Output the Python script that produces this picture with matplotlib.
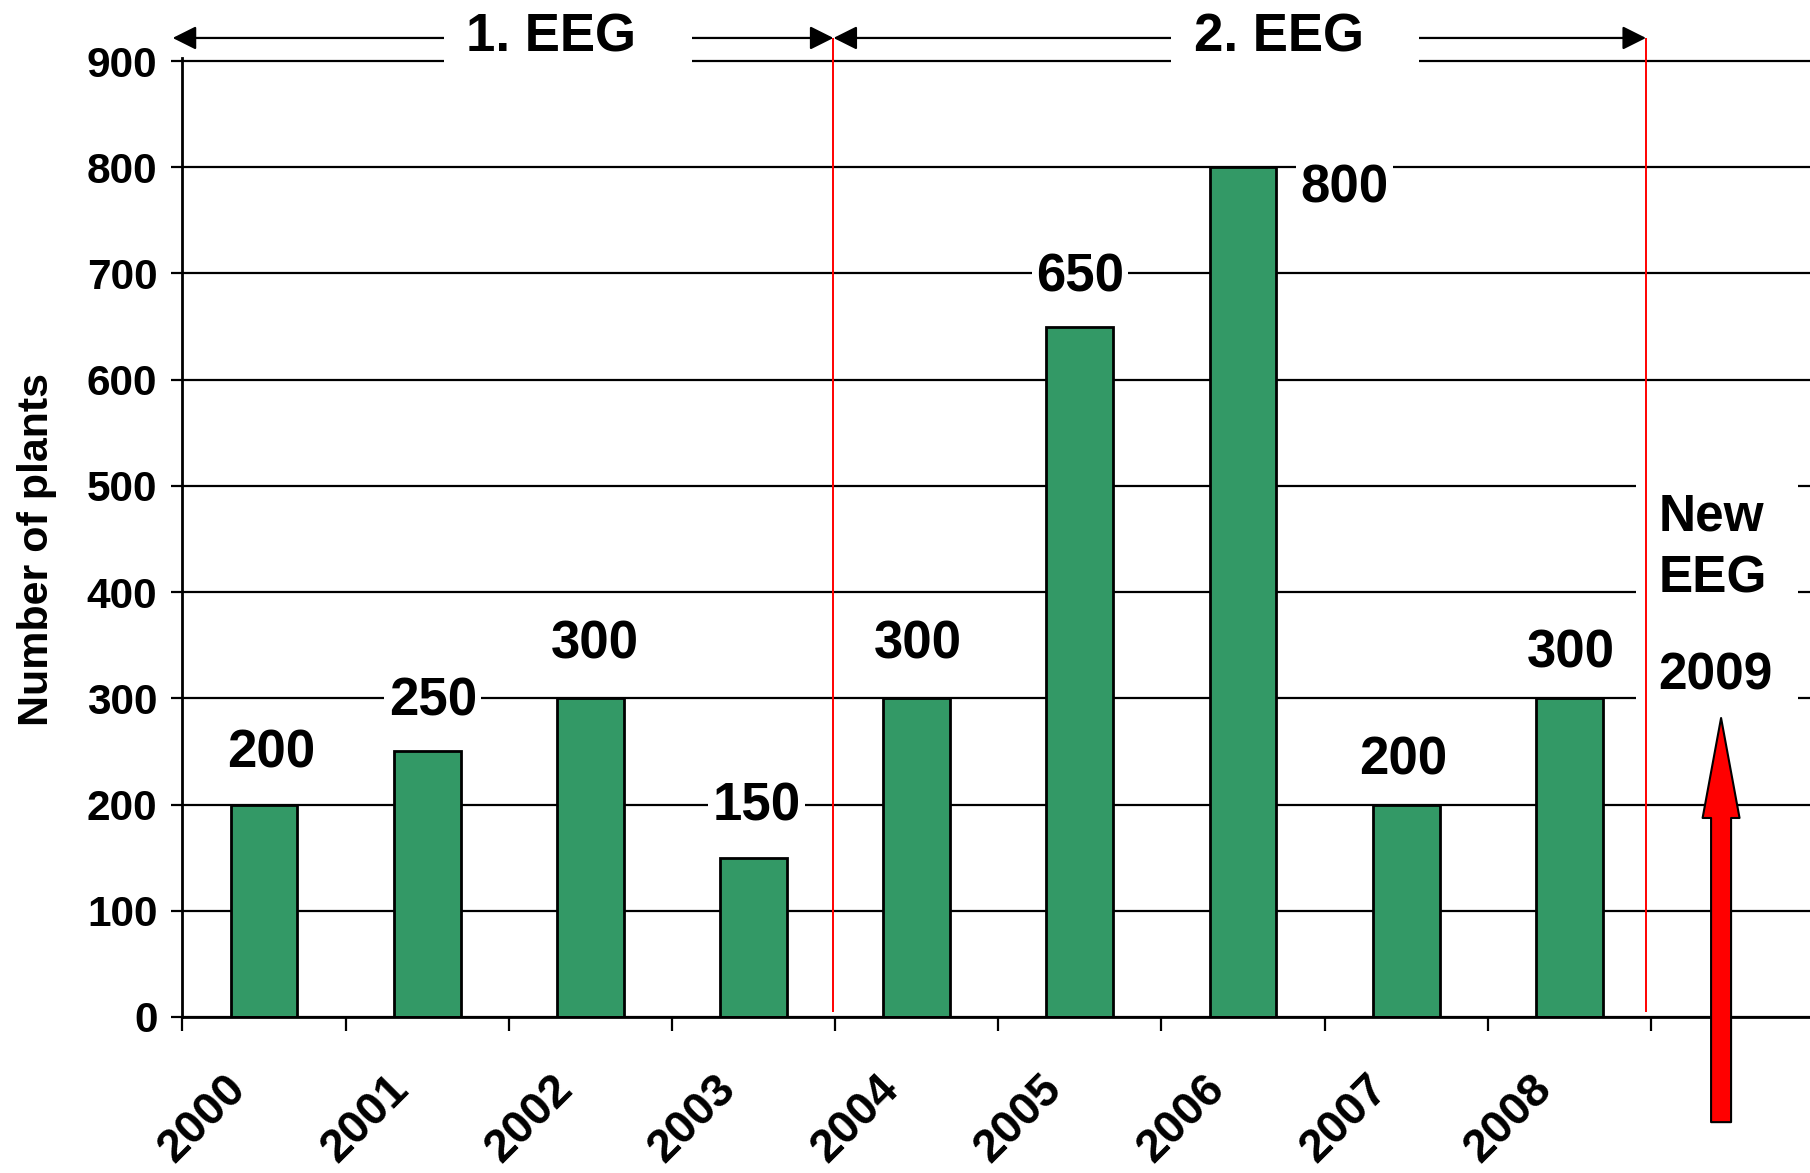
import numpy as np
import matplotlib
matplotlib.use('Agg')
import matplotlib.pyplot as plt
import matplotlib.patches as mpatches
from matplotlib.transforms import ScaledTranslation

years = ['2000', '2001', '2002', '2003', '2004', '2005', '2006', '2007', '2008']
plants = [200, 250, 300, 150, 300, 650, 800, 200, 300]
label_dy = [37, 36, 39, 37, 39, 35, -15, 32, 32]  # points above bar top
label_dx = [5, 4, 3, 2, 1, 0, 73, -2, 1]
periods = ['1. EEG', '2. EEG']
period_bounds = [(-0.06, 3.99), (3.99, 8.97)]
period_text_x = [2.26, 6.72]
period_box_x = [(1.605, 3.126), (6.06, 7.58)]

plt.rcParams['font.family'] = ['Liberation Sans', 'DejaVu Sans']

fig = plt.figure(figsize=(18.1, 11.73), dpi=100)
ax = fig.add_axes([0.1008, 0.1330, 0.8992, 0.8177])

x = np.arange(len(years)) + 0.5
ax.bar(x, plants, width=0.41, color='#339966', edgecolor='black', linewidth=2, zorder=2)

ax.set_xlim(0, 9.975)
ax.set_ylim(0, 903)
ax.set_axisbelow(True)
ax.yaxis.grid(True, color='black', lw=1.6)

for s in ['top', 'right']:
    ax.spines[s].set_visible(False)
ax.spines['left'].set_linewidth(2)
ax.spines['bottom'].set_linewidth(2)

ax.set_yticks(range(0, 901, 100))
ax.tick_params(axis='y', length=8, width=1.6, pad=10, labelsize=30.5)
for t in ax.get_yticklabels():
    t.set_fontweight('bold')

ax.set_xticks(np.arange(10))
ax.tick_params(axis='x', which='major', length=10, width=1.6, labelbottom=False)
ax.set_xticks(x, minor=True)
ax.set_xticklabels(years, minor=True, rotation=45, ha='right', rotation_mode='anchor',
                   fontsize=33.5, fontweight='bold')
ax.tick_params(axis='x', which='minor', length=0, pad=36)
shift = ScaledTranslation(-29 / 72, 0, fig.dpi_scale_trans)
for t in ax.get_xticklabels(minor=True):
    t.set_transform(t.get_transform() + shift)

ax.set_ylabel('Number of plants', fontsize=31, fontweight='bold')
ax.yaxis.set_label_coords(-0.077, 0.487)

# value labels on the bars
for xi, v, dx, dy in zip(x, plants, label_dx, label_dy):
    ax.annotate(str(v), xy=(xi, v), xytext=(dx, dy), textcoords='offset points',
                ha='center', va='center', fontsize=38, fontweight='bold', zorder=5,
                bbox=dict(boxstyle='square,pad=0.08', fc='white', ec='none'))

# EEG periods along the top
for name, (x0, x1), tx, (b0, b1) in zip(periods, period_bounds, period_text_x, period_box_x):
    ax.annotate('', xy=(x1, 921.7), xytext=(x0, 921.7),
                arrowprops=dict(arrowstyle='<|-|>', color='black', lw=1.6,
                                mutation_scale=36, shrinkA=0, shrinkB=0),
                annotation_clip=False, zorder=3)
    ax.add_patch(mpatches.Rectangle((b0, 870), b1 - b0, 90, fc='white', ec='none',
                                    clip_on=False, zorder=4))
    ax.text(tx, 922, name, ha='center', va='center', fontsize=38, fontweight='bold',
            zorder=5, clip_on=False)

ax.vlines([3.99, 8.97], 5, 921.7, color='red', lw=1.4, zorder=6, clip_on=False)

# new EEG marker
ax.add_patch(mpatches.Rectangle((8.91, 289), 0.99, 223, fc='white', ec='none', zorder=1))
ax.text(9.045, 470.7, 'New', ha='left', va='center', fontsize=37, fontweight='bold', zorder=5)
ax.text(9.045, 412, 'EEG', ha='left', va='center', fontsize=37, fontweight='bold', zorder=5)
ax.text(9.045, 320.7, '2009', ha='left', va='center', fontsize=37, fontweight='bold', zorder=5)
ax.annotate('', xy=(9.43, 281.5), xytext=(9.43, -99),
            arrowprops=dict(arrowstyle='simple,head_length=7.2,head_width=2.66,tail_width=1.44',
                            mutation_scale=10, fc='red', ec='black', lw=1.5,
                            shrinkA=0, shrinkB=0),
            annotation_clip=False, zorder=7)

fig.savefig('out.png', dpi=100)
